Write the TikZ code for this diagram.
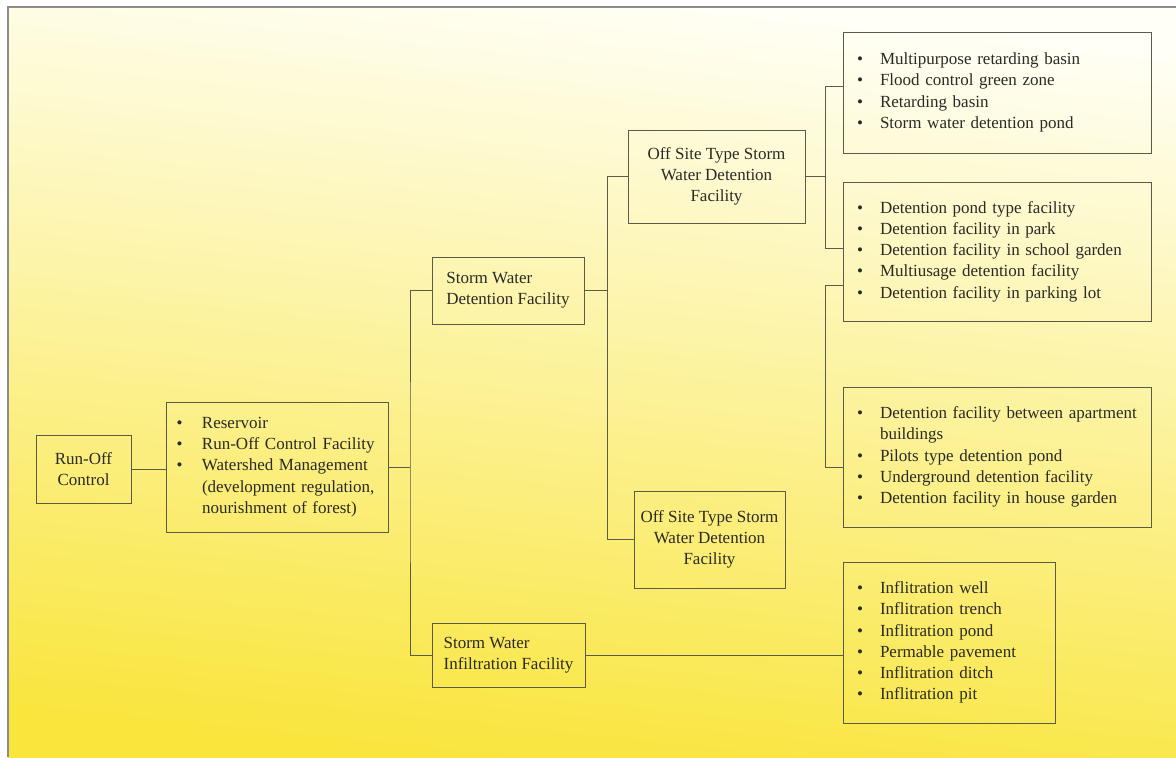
\documentclass[tikz,border=0pt]{standalone}
\usepackage{fontspec}
\setmainfont{Liberation Serif}
\usetikzlibrary{calc}

\definecolor{bgtop}{HTML}{FFFFF8}
\definecolor{bgmid}{HTML}{FDF3AA}
\definecolor{bgbot}{HTML}{F9E53C}
\definecolor{lncol}{HTML}{5C5A48}
\definecolor{txcol}{HTML}{2A2A26}

\newcommand\bul[1][11.5pt]{\makebox[#1][l]{\textbullet}}

\begin{document}
\begin{tikzpicture}[x=0.5pt,y=-0.5pt]
    \def\lw{0.5pt}

    \useasboundingbox (0,0) rectangle (1176,757);
    \shade[top color=bgtop,middle color=bgmid,bottom color=bgbot,shading angle=-6] (8,7) rectangle (1176,757);
    \draw[black!45,line width=0.8pt] (1176,7) -- (8,7) -- (8,757);

    \tikzstyle{box}=[draw=lncol,line width=\lw,text=txcol,font=\fontsize{8.5}{10.65}\selectfont,inner sep=0pt]
    \tikzstyle{head}=[box,align=center]
    \tikzstyle{sub}=[box,align=left]
    \tikzstyle{items}=[box,align=left,inner xsep=7pt,text width=140pt]

    \node[head,minimum width=47.5pt,minimum height=34pt] (ctrl) at (83.5,469) {Run-Off\\Control};
    \node[items,inner xsep=5.25pt,text width=100.5pt,minimum height=65pt] (meas) at (277,467)
        {\bul[12.75pt]Reservoir\\
         \bul[12.75pt]Run-Off Control Facility\\
         \bul[12.75pt]Watershed Management\\
         \hspace*{12.75pt}(development regulation,\\
         \hspace*{12.75pt}nourishment of forest)};

    \node[sub,minimum width=76pt,minimum height=33.5pt] (det) at (508,290.5) {Storm Water\\Detention Facility};
    \node[sub,minimum width=76.5pt,minimum height=32pt] (inf) at (508.5,655) {Storm Water\\Infiltration Facility};

    \node[head,minimum width=88.5pt,minimum height=46.5pt] (offa) at (716.5,176.5) {Off Site Type Storm\\Water Detention\\Facility};
    \node[head,minimum width=75.5pt,minimum height=48.5pt] (offb) at (709.5,539.5) {Off Site Type Storm\\Water Detention\\Facility};

    \node[items,minimum width=154pt,minimum height=60.5pt] (lista) at (997,92.5)
        {\bul Multipurpose retarding basin\\
         \bul Flood control green zone\\
         \bul Retarding basin\\
         \bul Storm water detention pond};
    \node[items,minimum width=154pt,minimum height=69.5pt] (listb) at (997,251.5)
        {\bul Detention pond type facility\\
         \bul Detention facility in park\\
         \bul Detention facility in school garden\\
         \bul Multiusage detention facility\\
         \bul Detention facility in parking lot};
    \node[items,minimum width=154pt,minimum height=70pt] (listc) at (997,457)
        {\bul \mbox{Detention facility between apartment}\\
         \hspace*{11.5pt}buildings\\
         \bul Pilots type detention pond\\
         \bul Underground detention facility\\
         \bul Detention facility in house garden};
    \node[items,text width=92pt,minimum width=106pt,minimum height=80.5pt] (listd) at (949,642.5)
        {\bul Inflitration well\\
         \bul Inflitration trench\\
         \bul Inflitration pond\\
         \bul Permable pavement\\
         \bul Inflitration ditch\\
         \bul Inflitration pit};

    % branch points
    \coordinate (j1) at (410,472);
    \coordinate (j2) at (607,293);
    \coordinate (j3) at (825,178);
    \coordinate (j4) at (825,376);

    \tikzstyle{link}=[draw=lncol,line width=\lw]

    \draw[link] (ctrl.east) -- (ctrl.east -| meas.west);
    \draw[link] (meas.east) -- (meas.east -| j1);
    \draw[link] (det.west) -| (j1) |- (inf.west);
    \draw[link] (det.east) -- (det.east -| j2);
    \draw[link] (offa.west) -| (j2) |- (offb.west);
    \draw[link] (offa.east) -- (offa.east -| j3);
    \draw[link] ($(lista.west)+(0,-6)$) -| (j3) |- ($(listb.west)+(0,-3.5)$);
    \draw[link] ($(listb.west)+(0,34)$) -| (j4) |- ($(listc.west)+(0,10)$);
    \draw[link] (inf.east) -- (inf.east -| listd.west);
\end{tikzpicture}
\end{document}
